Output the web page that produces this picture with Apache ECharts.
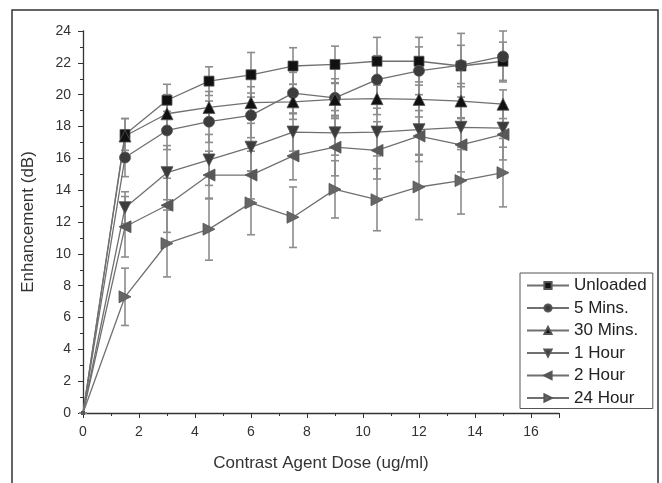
<!DOCTYPE html>
<html>
<head>
<meta charset="utf-8">
<script src="https://cdn.jsdelivr.net/npm/echarts@6/dist/echarts.min.js"></script>
<style>
  html, body { margin: 0; padding: 0; background: #fff; }
  #chart { width: 662px; height: 483px; }
</style>
</head>
<body>
<div id="chart"></div>
<script>
const doses = [0, 1.5, 3, 4.5, 6, 7.5, 9, 10.5, 12, 13.5, 15]

const seriesNames = ["Unloaded", "5 Mins.", "30 Mins.", "1 Hour", "2 Hour", "24 Hour"]

const unloaded = [0, 17.5, 19.65, 20.85, 21.25, 21.8, 21.9, 22.1, 22.1, 21.8, 22.1]
const mins5 = [0, 16.05, 17.75, 18.3, 18.7, 20.1, 19.8, 20.95, 21.5, 21.85, 22.4]
const mins30 = [0, 17.4, 18.8, 19.2, 19.5, 19.55, 19.7, 19.75, 19.7, 19.6, 19.4]
const hour1 = [0, 12.9, 15.1, 15.9, 16.7, 17.65, 17.6, 17.65, 17.8, 17.95, 17.9]
const hour2 = [0, 11.7, 13.05, 14.95, 14.95, 16.15, 16.7, 16.5, 17.4, 16.85, 17.5]
const hour24 = [0, 7.3, 10.65, 11.55, 13.2, 12.3, 14.05, 13.4, 14.2, 14.6, 15.1]

const errUnloaded = [0, 1.0, 1.0, 0.9, 1.4, 1.15, 1.15, 1.5, 1.5, 1.3, 1.2]
const err5 = [0, 1.2, 1.2, 1.3, 1.4, 1.3, 1.2, 1.5, 1.5, 2.0, 1.6]
const err30 = [0, 1.1, 1.2, 1.0, 1.0, 1.1, 1.0, 1.0, 1.1, 1.1, 0.9]
const err1h = [0, 1.0, 1.7, 1.6, 1.5, 1.2, 1.4, 1.5, 1.6, 1.4, 1.2]
const err2h = [0, 1.9, 1.7, 1.5, 1.5, 1.5, 1.8, 1.8, 1.6, 1.7, 1.6]
const err24h = [0, 1.8, 2.1, 1.95, 2.0, 1.9, 1.8, 1.95, 2.05, 2.1, 2.15]

const values = [unloaded, mins5, mins30, hour1, hour2, hour24]
const errors = [errUnloaded, err5, err30, err1h, err2h, err24h]

const symbols = [
    { symbol: "rect", rotate: 0, size: 10, color: "#111" },
    { symbol: "circle", rotate: 0, size: 11, color: "#3c3c3c" },
    { symbol: "triangle", rotate: 0, size: 12, color: "#111" },
    { symbol: "triangle", rotate: 180, size: 12, color: "#3c3c3c" },
    { symbol: "triangle", rotate: 90, size: 12, color: "#585858" },
    { symbol: "triangle", rotate: -90, size: 12, color: "#666" },
]

const font = "Liberation Sans, Arial, sans-serif"

const errorBar = (params, api) => {
    const x = api.value(0)
    const lo = api.coord([x, api.value(1)])
    const hi = api.coord([x, api.value(2)])
    const w = 4
    const style = { stroke: "#8c8c8c", lineWidth: 1.6 }
    return {
        type: "group",
        children: [
            { type: "line", shape: { x1: lo[0], y1: lo[1], x2: hi[0], y2: hi[1] }, style },
            { type: "line", shape: { x1: lo[0] - w, y1: lo[1], x2: lo[0] + w, y2: lo[1] }, style },
            { type: "line", shape: { x1: hi[0] - w, y1: hi[1], x2: hi[0] + w, y2: hi[1] }, style },
        ],
    }
}

const series = []
values.forEach((vals, i) => {
    series.push({
        type: "custom",
        renderItem: errorBar,
        z: 1,
        silent: true,
        data: doses.map((d, j) => [d, vals[j] - errors[i][j], vals[j] + errors[i][j]]),
    })
})
values.forEach((vals, i) => {
    const s = symbols[i]
    series.push({
        name: seriesNames[i],
        type: "line",
        z: 3,
        symbol: s.symbol,
        symbolRotate: s.rotate,
        symbolSize: (v) => (v[0] === 0 ? 3 : s.size),
        showAllSymbol: true,
        lineStyle: { color: "#707070", width: 1.3 },
        itemStyle: { color: s.color, borderColor: "#555", borderWidth: 0.8 },
        data: doses.map((d, j) => [d, vals[j]]),
    })
})

const chart = echarts.init(document.getElementById("chart"), null, { renderer: "canvas" })
chart.setOption({
    animation: false,
    grid: { left: 83, right: 103, top: 31, bottom: 70 },
    xAxis: {
        type: "value",
        min: 0,
        max: 17,
        interval: 2,
        name: "Contrast Agent Dose (ug/ml)",
        nameLocation: "middle",
        nameGap: 42,
        nameTextStyle: { fontSize: 17, color: "#333", fontFamily: font },
        axisLine: { lineStyle: { color: "#333", width: 1.3 } },
        axisTick: { show: true, length: 5, inside: false, lineStyle: { color: "#333" } },
        minorTick: { show: true, splitNumber: 2, length: 3, lineStyle: { color: "#333" } },
        axisLabel: { fontSize: 14, color: "#333", fontFamily: font, margin: 12, showMaxLabel: false },
        splitLine: { show: false },
    },
    yAxis: {
        type: "value",
        min: 0,
        max: 24,
        interval: 2,
        name: "Enhancement (dB)",
        nameLocation: "middle",
        nameGap: 46,
        nameTextStyle: { fontSize: 17, color: "#333", fontFamily: font },
        axisLine: { show: true, lineStyle: { color: "#333", width: 1.3 } },
        axisTick: { show: true, length: 5, lineStyle: { color: "#333" } },
        minorTick: { show: true, splitNumber: 2, length: 3, lineStyle: { color: "#333" } },
        axisLabel: { fontSize: 14, color: "#333", fontFamily: font, margin: 12 },
        splitLine: { show: false },
    },
    legend: {
        data: seriesNames,
        orient: "vertical",
        left: 520,
        top: 273,
        itemWidth: 42,
        itemHeight: 9,
        itemGap: 5.5,
        padding: [4, 6, 2, 6],
        borderColor: "#555",
        borderWidth: 1,
        textStyle: { fontSize: 17, lineHeight: 17, color: "#222", fontFamily: font },
    },
    graphic: [
        {
            type: "rect",
            shape: { x: 12, y: 10, width: 646, height: 490 },
            style: { fill: null, stroke: "#333", lineWidth: 1.5 },
            silent: true,
        },
    ],
    series: series,
})
</script>
</body>
</html>
